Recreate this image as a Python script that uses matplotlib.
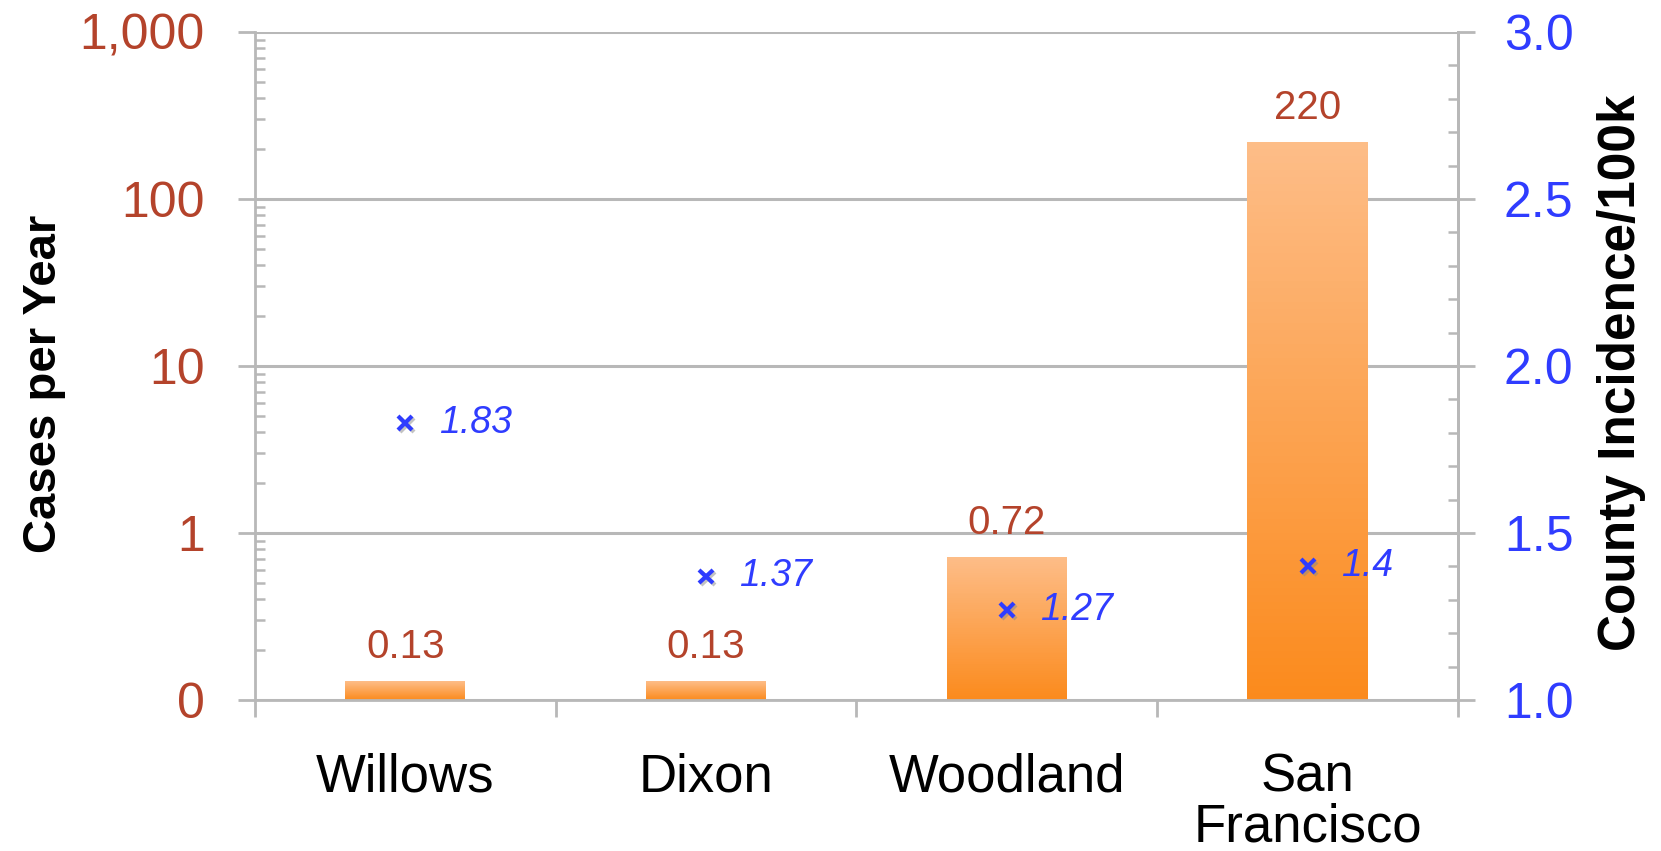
import numpy as np
import matplotlib
matplotlib.use("Agg")
import matplotlib.pyplot as plt
from matplotlib.ticker import FixedLocator, LogLocator, MultipleLocator, NullFormatter
from matplotlib.colors import to_rgb
import matplotlib.patheffects as pe

plt.rcParams['font.family'] = ['Liberation Sans', 'DejaVu Sans']

categories = ["Willows", "Dixon", "Woodland", "San\nFrancisco"]
cases_per_year = [0.13, 0.13, 0.72, 220]
case_labels = ["0.13", "0.13", "0.72", "220"]
incidence = [1.83, 1.37, 1.27, 1.4]
incidence_labels = ["1.83", "1.37", "1.27", "1.4"]
left_ticks = [0.1, 1, 10, 100, 1000]
left_ticklabels = ["0", "1", "10", "100", "1,000"]
right_ticks = [1.0, 1.5, 2.0, 2.5, 3.0]
right_ticklabels = ["1.0", "1.5", "2.0", "2.5", "3.0"]

RED = "#B4432B"
BLUE = "#2F3CFF"
GRID = "#B8B8B8"
TOP_C = np.array(to_rgb("#FDBD88"))
BOT_C = np.array(to_rgb("#FB8A1C"))

fig = plt.figure(figsize=(16.61, 8.51), dpi=100)
ax = fig.add_axes([0.1535, 0.1774, 0.7243, 0.785])
ax.set_yscale("log")
ax.set_ylim(0.1, 1000)
ax.set_xlim(-0.5, len(categories) - 0.5)

ymin = 0.1
x = np.arange(len(categories))
width = 0.4
nseg = 80
for xi, v in zip(x, cases_per_year):
    edges = np.logspace(np.log10(ymin), np.log10(v), nseg + 1)
    for k in range(nseg):
        t = (k + 0.5) / nseg
        c = BOT_C * (1 - t) + TOP_C * t
        ax.bar(xi, edges[k + 1] - edges[k], bottom=edges[k], width=width,
               color=c, linewidth=0, antialiased=False, zorder=2)

for xi, v, lab in zip(x, cases_per_year, case_labels):
    ax.annotate(lab, (xi, v), xytext=(0, 11), textcoords="offset points",
                ha="center", va="bottom", color=RED, fontsize=29, zorder=5)

ax.yaxis.set_major_locator(FixedLocator(left_ticks))
ax.set_yticklabels(left_ticklabels)
ax.yaxis.set_minor_locator(LogLocator(base=10, subs=np.arange(2, 10)))
ax.yaxis.set_minor_formatter(NullFormatter())
ax.grid(axis="y", which="major", color=GRID, linewidth=2.2, zorder=0)
ax.set_axisbelow(True)

ax.set_xticks(np.arange(-0.5, len(categories) + 0.5, 1.0))
ax.set_xticklabels([])
ax.set_xticks(x, minor=True)
ax.set_xticklabels(categories, minor=True, fontsize=38, linespacing=1.0)
ax.tick_params(axis="x", which="minor", length=0, pad=38)
ax.tick_params(axis="x", which="major", direction="out", length=12, width=2, color=GRID)

ax.tick_params(axis="y", which="major", direction="out", length=12, width=2,
               color=GRID, labelsize=36, labelcolor=RED, pad=24)
ax.tick_params(axis="y", which="minor", direction="in", length=7, width=1.8, color=GRID)

ax.spines["top"].set_visible(False)
for s in ["left", "right", "bottom"]:
    ax.spines[s].set_color(GRID)
    ax.spines[s].set_linewidth(2)

ax2 = ax.twinx()
ax2.set_ylim(1.0, 3.0)
ax2.yaxis.set_major_locator(FixedLocator(right_ticks))
ax2.set_yticklabels(right_ticklabels)
ax2.yaxis.set_minor_locator(MultipleLocator(0.1))
ax2.tick_params(axis="y", which="major", direction="out", length=12, width=2,
                color=GRID, labelsize=36, labelcolor=BLUE, pad=21)
ax2.tick_params(axis="y", which="minor", direction="in", length=7, width=1.8, color=GRID)
for s in ["top", "left", "bottom"]:
    ax2.spines[s].set_visible(False)
ax2.spines["right"].set_color(GRID)
ax2.spines["right"].set_linewidth(2)

shadow = [pe.SimpleLineShadow(offset=(1.5, -1.5), shadow_color="#888888", alpha=0.5), pe.Normal()]
ax2.plot(x, incidence, linestyle="none", marker="x", markersize=10, markeredgewidth=3,
         color=BLUE, zorder=6, path_effects=shadow)
for xi, v, lab in zip(x, incidence, incidence_labels):
    ax2.annotate(lab, (xi, v), xytext=(24, 0), textcoords="offset points",
                 ha="left", va="center", color=BLUE, fontsize=27, style="italic", zorder=6)

W, H = 1661.0, 851.0
fig.text(44 / W, 1 - 384 / H, "Cases per Year", rotation=90, ha="center", va="center",
         fontsize=34, fontweight="bold", color="black")
fig.text(1621 / W, 1 - 373 / H, "County Incidence/100k", rotation=90, ha="center", va="center",
         fontsize=37, fontweight="bold", color="black")

fig.savefig("out.png", dpi=100)
